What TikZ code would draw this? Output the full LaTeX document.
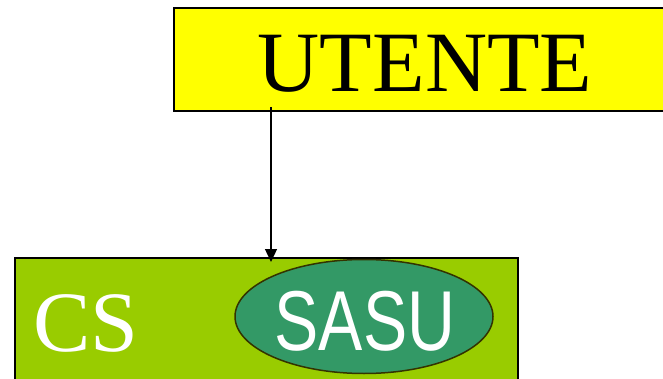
\documentclass[tikz,border=0pt]{standalone}
\usepackage{fontspec}
\setmainfont{Liberation Serif}
\newfontfamily\narrowsans{Liberation Sans}[FakeStretch=0.78]
\usetikzlibrary{arrows.meta,shapes.geometric}
\definecolor{boxyellow}{HTML}{FFFF00}
\definecolor{csgreen}{HTML}{99CC00}
\definecolor{sasugreen}{HTML}{339966}
\definecolor{sasuedge}{HTML}{333300}
\tikzset{
  ybox/.style={draw=black, line width=2pt, fill=boxyellow},
  gbox/.style={draw=black, line width=1.3pt, fill=csgreen},
  sasuell/.style={ellipse, draw=sasuedge, line width=1.5pt, fill=sasugreen, minimum width=258pt, minimum height=114pt, inner sep=0pt},
  bigtxt/.style={font=\fontsize{86}{90}\selectfont, inner sep=0pt, anchor=base},
  conn/.style={draw=black, line width=1.3pt, -{Triangle[length=13pt,width=12pt]}}
}
\begin{document}
\begin{tikzpicture}[x=1pt,y=-1pt]
\useasboundingbox (0,0) rectangle (663,379);
\clip (0,0) rectangle (663,379);
\draw[ybox] (174,8) rectangle (680,111);
\node[bigtxt, text=black] (ut) at (425,92) {UTENTE};
\coordinate (ustart) at (271,107);
\draw[gbox] (15,258) rectangle (518,400);
\node[sasuell] (sasu) at (364,316.5) {};
\node[bigtxt, text=white] (cs) at (86,351) {CS};
\node[bigtxt, text=white, font=\fontsize{85}{90}\narrowsans] (sasut) at (365,350) {SASU};
\coordinate (uend) at (271,262);
\draw[conn] (ustart) -- (uend);
\end{tikzpicture}
\end{document}
